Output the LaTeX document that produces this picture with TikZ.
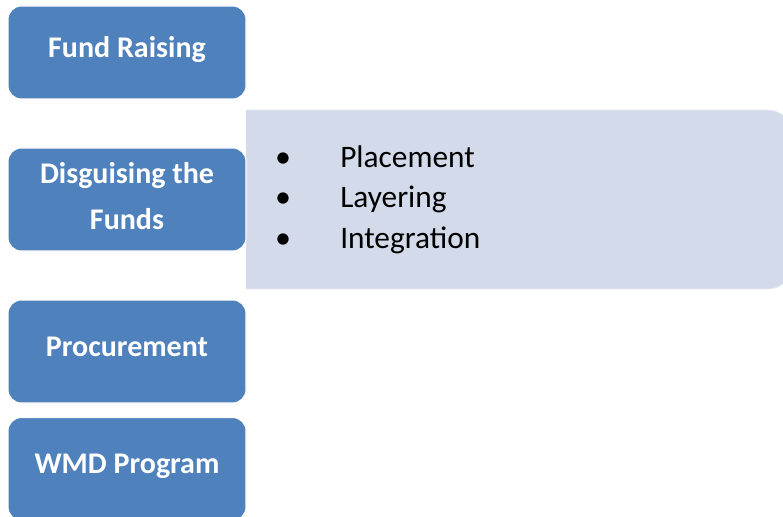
\documentclass[tikz,border=0pt]{standalone}
\usepackage{fontspec}
\setmainfont{Carlito}
\usetikzlibrary{positioning}

\definecolor{stageblue}{HTML}{4F81BD}
\definecolor{listfill}{HTML}{D3DAE9}

\tikzset{
  stagebox/.style={draw=white, line width=0.8pt, fill=stageblue, rounded corners=10pt,
    minimum width=178.5pt, minimum height=77.25pt, text=white,
    font=\fontsize{22.5}{34.5}\selectfont\bfseries, text height=0.84em, text depth=0.14em},
  listtext/.style={anchor=base west, inner sep=0pt, font=\fontsize{23.5}{28}\selectfont},
  listdot/.style={anchor=base, inner sep=0pt, font=\fontsize{24}{28}\selectfont}
}

\begin{document}
\begin{tikzpicture}[x=0.75pt,y=-0.75pt]
    \useasboundingbox (0,0) rectangle (783,517);
    % panel with the three stages of laundering
    \begin{scope}
        \clip (246,0) rectangle (800,517);
        \draw[fill=listfill, draw=listfill!60!white, rounded corners=18pt] (200,110) rectangle (792,289);
    \end{scope}
    \foreach \word [count=\i] in {Placement,Layering,Integration} {
        \node[listdot] (dot\i) at (283,{128+40*\i}) {\textbullet};
        \node[listtext] (item\i) at (340,{128+40*\i}) {\word};
    }
    % the four stages
    \node[stagebox, minimum height=69.75pt] (raising) at (127,52.5) {Fund Raising};
    \node[stagebox, align=center, text height=, text depth=0.6em] (disguise) at (127,199.5) {Disguising the\\Funds};
    \node[stagebox] (procure) at (127,351.5) {Procurement};
    \node[stagebox] (wmd) at (127,469) {WMD Program};
\end{tikzpicture}
\end{document}
